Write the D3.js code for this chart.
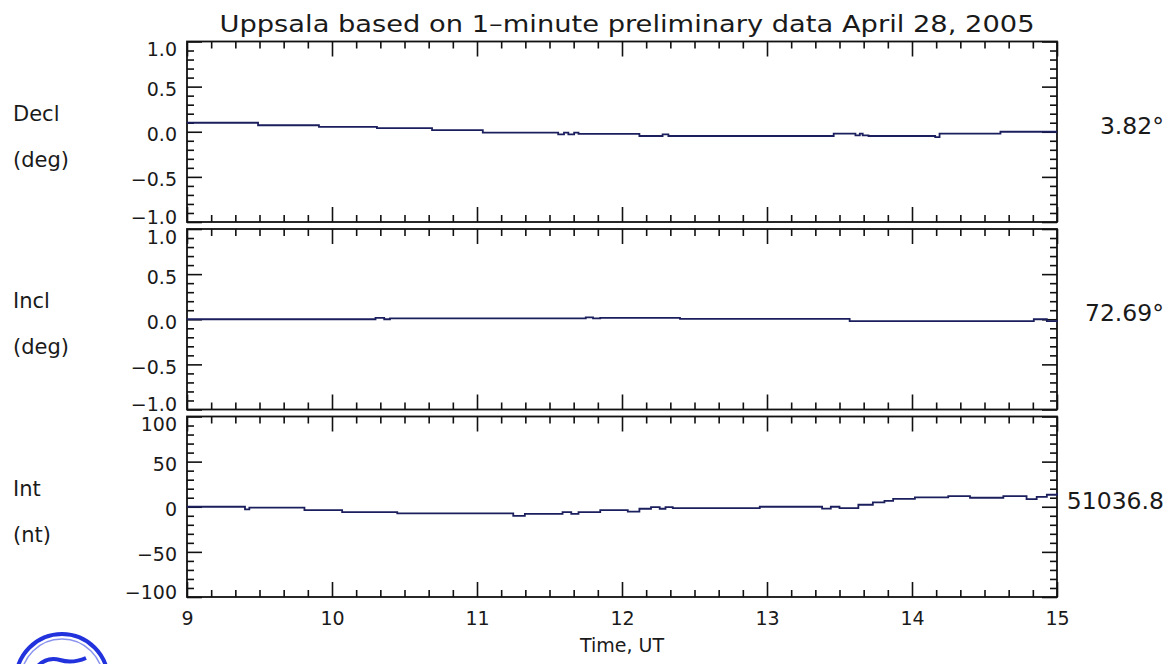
<!DOCTYPE html>
<html>
<head>
<meta charset="utf-8">
<script src="https://cdn.jsdelivr.net/npm/d3@7"></script>
<style>
body { margin: 0; background: #fff; }
text { font-family: "DejaVu Sans", sans-serif; fill: #1a1a1a; }
</style>
</head>
<body>
<svg id="chart" width="1174" height="664"></svg>
<script>
const title = "Uppsala based on 1\u2013minute preliminary data April 28, 2005"
const hourTicks = [9, 10, 11, 12, 13, 14, 15]
const degTicks = [-1.0, -0.5, 0.0, 0.5, 1.0]
const ntTicks = [-100, -50, 0, 50, 100]
const panelNames = ["Decl", "Incl", "Int"]
const panelUnits = ["(deg)", "(deg)", "(nt)"]
const baseValues = ["3.82\u00b0", "72.69\u00b0", "51036.8"]

// times in hours UT, values relative to the base value
const declTime = [9.00, 9.49, 9.91, 10.31, 10.69, 11.04, 11.56, 11.60, 11.63, 11.67, 11.70, 12.12, 12.28, 12.32, 13.46, 13.61, 13.64, 13.66, 13.70, 14.16, 14.19, 14.61, 15.00]
const declVals = [0.100, 0.072, 0.053, 0.040, 0.017, -0.009, -0.030, -0.010, -0.030, -0.010, -0.024, -0.047, -0.030, -0.047, -0.020, -0.040, -0.020, -0.040, -0.047, -0.060, -0.020, 0.000, 0.000]

const inclTime = [9.00, 10.30, 10.36, 10.40, 11.75, 11.80, 11.85, 12.40, 13.57, 14.68, 14.84, 14.93, 15.00]
const inclVals = [0.000, 0.015, 0.000, 0.010, 0.020, 0.010, 0.015, 0.005, -0.020, -0.020, 0.000, -0.020, -0.010]

const intTime = [9.00, 9.40, 9.43, 9.81, 10.07, 10.45, 11.25, 11.33, 11.59, 11.65, 11.70, 11.85, 12.04, 12.12, 12.20, 12.26, 12.30, 12.35, 12.95, 13.32, 13.38, 13.44, 13.50, 13.63, 13.73, 13.81, 13.87, 14.02, 14.25, 14.40, 14.63, 14.79, 14.86, 14.93, 15.00]
const intVals = [0.0, -3.0, -1.0, -3.7, -5.9, -7.4, -10.0, -8.0, -5.9, -8.0, -5.9, -3.7, -5.5, -2.2, -0.5, -2.2, -0.5, -1.5, 0.0, 0.0, -2.0, 0.0, -1.5, 2.2, 4.8, 6.6, 8.8, 10.3, 11.8, 10.0, 11.8, 8.5, 11.0, 13.3, 15.1]

const svg = d3.select("#chart")
const left = 187, right = 1057
const panelTops = [41.5, 229, 416.5]
const panelHeight = 180.5

const x = d3.scaleLinear().domain([9, 15]).range([left, right])
const minorHours = d3.range(9, 15.001, 1 / 6).filter(h => Math.abs(h - Math.round(h)) > 0.01)

const panels = [
    { name: panelNames[0], unit: panelUnits[0], base: baseValues[0], t: declTime, v: declVals, ticks: degTicks, step: 0.1, fmt: d3.format(".1f") },
    { name: panelNames[1], unit: panelUnits[1], base: baseValues[1], t: inclTime, v: inclVals, ticks: degTicks, step: 0.1, fmt: d3.format(".1f") },
    { name: panelNames[2], unit: panelUnits[2], base: baseValues[2], t: intTime, v: intVals, ticks: ntTicks, step: 10, fmt: d3.format("d") }
]

svg.append("text")
    .attr("x", (left + right) / 2 + 5)
    .attr("y", 32)
    .attr("text-anchor", "middle")
    .attr("textLength", 815)
    .attr("lengthAdjust", "spacingAndGlyphs")
    .style("font-size", "23px")
    .text(title)

const styleAxis = (g, width) => {
    g.select(".domain").remove()
    g.selectAll("line").attr("stroke", "#111").attr("stroke-width", width)
}

panels.forEach((p, i) => {
    const top = panelTops[i], bottom = top + panelHeight
    const lo = d3.min(p.ticks), hi = d3.max(p.ticks)
    const y = d3.scaleLinear().domain([lo, hi]).range([bottom, top])
    const minorY = d3.range(lo, hi + p.step / 2, p.step)
        .filter(v => !p.ticks.some(t => Math.abs(t - v) < p.step / 10))

    // left axis with labels, ticks pointing inward
    svg.append("g")
        .attr("transform", `translate(${left},0)`)
        .call(d3.axisLeft(y).tickValues(p.ticks).tickFormat(p.fmt).tickSizeInner(-15).tickSizeOuter(0).tickPadding(10))
        .call(g => styleAxis(g, 1.6))
        .call(g => g.selectAll("text")
            .style("font-size", "19px")
            .attr("fill", "#1a1a1a")
            .attr("dy", d => (d === hi ? 14 : d === lo ? 1 : 9) + "px"))
    svg.append("g")
        .attr("transform", `translate(${left},0)`)
        .call(d3.axisLeft(y).tickValues(minorY).tickFormat("").tickSizeInner(-7).tickSizeOuter(0))
        .call(g => styleAxis(g, 1.6))

    // right axis
    svg.append("g")
        .attr("transform", `translate(${right},0)`)
        .call(d3.axisRight(y).tickValues(p.ticks).tickFormat("").tickSizeInner(-15).tickSizeOuter(0))
        .call(g => styleAxis(g, 1.6))
    svg.append("g")
        .attr("transform", `translate(${right},0)`)
        .call(d3.axisRight(y).tickValues(minorY).tickFormat("").tickSizeInner(-7).tickSizeOuter(0))
        .call(g => styleAxis(g, 1.6))

    // top and bottom axes
    svg.append("g")
        .attr("transform", `translate(0,${top})`)
        .call(d3.axisTop(x).tickValues(hourTicks).tickFormat("").tickSizeInner(-15).tickSizeOuter(0))
        .call(g => styleAxis(g, 1.6))
    svg.append("g")
        .attr("transform", `translate(0,${top})`)
        .call(d3.axisTop(x).tickValues(minorHours).tickFormat("").tickSizeInner(-7).tickSizeOuter(0))
        .call(g => styleAxis(g, 1.6))
    svg.append("g")
        .attr("transform", `translate(0,${bottom})`)
        .call(d3.axisBottom(x).tickValues(hourTicks).tickFormat(i === 2 ? d3.format("d") : "").tickSizeInner(-15).tickSizeOuter(0).tickPadding(15))
        .call(g => styleAxis(g, 1.6))
        .call(g => g.selectAll("text").style("font-size", "19px").attr("fill", "#1a1a1a"))
    svg.append("g")
        .attr("transform", `translate(0,${bottom})`)
        .call(d3.axisBottom(x).tickValues(minorHours).tickFormat("").tickSizeInner(-7).tickSizeOuter(0))
        .call(g => styleAxis(g, 1.6))

    // frame
    svg.append("rect")
        .attr("x", left)
        .attr("y", top)
        .attr("width", right - left)
        .attr("height", panelHeight)
        .attr("fill", "none")
        .attr("stroke", "#111")
        .attr("stroke-width", 1.8)

    // data line
    const line = d3.line()
        .x((d, k) => x(p.t[k]))
        .y(d => y(d))
        .curve(d3.curveStepAfter)
    svg.append("path")
        .datum(p.v)
        .attr("d", line)
        .attr("fill", "none")
        .attr("stroke", "#1b1f5e")
        .attr("stroke-width", 1.8)

    // labels
    const mid = y(0)
    svg.append("text")
        .attr("x", 13)
        .attr("y", mid - 11)
        .style("font-size", "21px")
        .text(p.name)
    svg.append("text")
        .attr("x", 13)
        .attr("y", mid + 35)
        .style("font-size", "21px")
        .text(p.unit)
    svg.append("text")
        .attr("x", 1164)
        .attr("y", top + 92)
        .attr("text-anchor", "end")
        .style("font-size", "23.5px")
        .text(p.base)
})

svg.append("text")
    .attr("x", (left + right) / 2)
    .attr("y", 652)
    .attr("text-anchor", "middle")
    .style("font-size", "19px")
    .text("Time, UT")

// partial logo in the lower left corner
const logo = svg.append("g")
logo.append("circle")
    .attr("cx", 62).attr("cy", 680).attr("r", 46)
    .attr("fill", "none").attr("stroke", "#2233dd").attr("stroke-width", 4)
logo.append("circle")
    .attr("cx", 62).attr("cy", 680).attr("r", 41)
    .attr("fill", "none").attr("stroke", "#8a94ee").attr("stroke-width", 1.5)
logo.append("path")
    .attr("d", "M36,668 Q46,656 60,660 Q72,664 86,658")
    .attr("fill", "none").attr("stroke", "#2233dd").attr("stroke-width", 4)
</script>
</body>
</html>
